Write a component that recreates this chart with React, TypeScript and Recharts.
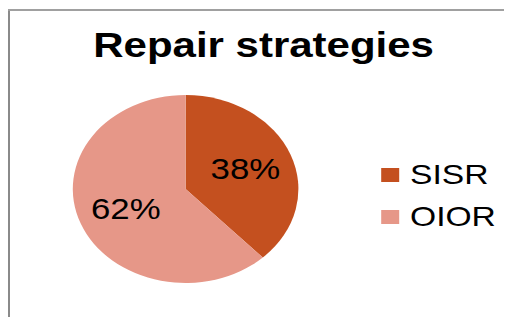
import { PieChart, Pie, Cell, Legend } from "recharts";

const strategies = ["SISR", "OIOR"];
const shares = [38, 62];
const colors = ["#C4501F", "#E69788"];

const data = strategies.map((name, i) => ({ name, value: shares[i] }));

const RAD = Math.PI / 180;
const FONT = "'Liberation Sans', Arial, sans-serif";

function renderLabel(props: any) {
  const { cx, cy, midAngle, outerRadius, percent } = props;
  const r = outerRadius * 0.57;
  const x = cx + r * Math.cos(-midAngle * RAD);
  const y = cy + r * Math.sin(-midAngle * RAD);
  return (
    <text
      x={x}
      y={y}
      textAnchor="middle"
      dominantBaseline="central"
      fontSize={29}
      fontFamily={FONT}
      fill="#000"
    >
      {`${Math.round(percent * 100)}%`}
    </text>
  );
}

function renderLegend(props: any) {
  const items = [...(props.payload || [])].sort(
    (a: any, b: any) => strategies.indexOf(a.value) - strategies.indexOf(b.value)
  );
  return (
    <div style={{ fontFamily: FONT, fontSize: 28, color: "#000" }}>
      {items.map((entry: any, i: number) => (
        <div
          key={`leg-${i}`}
          style={{ display: "flex", alignItems: "center", height: 42, lineHeight: "42px" }}
        >
          <span
            style={{
              display: "inline-block",
              width: 15,
              height: 14,
              background: entry.color,
              marginRight: 9,
            }}
          />
          <span>{entry.value}</span>
        </div>
      ))}
    </div>
  );
}

export default function App() {
  return (
    <div style={{ position: "relative", width: 504, height: 309, overflow: "hidden", fontFamily: FONT }}>
      <div style={{ position: "absolute", left: 0, top: 1, width: 2, height: 308, background: "#8a8a8a" }} />
      <div style={{ position: "absolute", left: 0, top: 1, width: 504, height: 1.5, background: "#a0a0a0" }} />
      <div style={{ position: "absolute", left: 0, top: 0, transform: "scaleX(1.2)", transformOrigin: "0 0" }}>
        <PieChart width={420} height={309} margin={{ top: 0, right: 0, bottom: 0, left: 0 }}>
          <text x={213} y={49} textAnchor="middle" fontSize={35} fontWeight="bold" fontFamily={FONT} fill="#000">
            Repair strategies
          </text>
          <Pie
            data={data}
            dataKey="value"
            nameKey="name"
            cx={148}
            cy={181}
            outerRadius={94}
            startAngle={90}
            endAngle={-270}
            stroke="none"
            labelLine={false}
            label={renderLabel}
            isAnimationActive={false}
          >
            {data.map((entry, index) => (
              <Cell key={`cell-${index}`} fill={colors[index]} />
            ))}
          </Pie>
          <Legend
            layout="vertical"
            align="right"
            verticalAlign="middle"
            content={renderLegend}
            wrapperStyle={{ left: 311, top: 146, width: 110, right: "auto", bottom: "auto" }}
          />
        </PieChart>
      </div>
    </div>
  );
}
